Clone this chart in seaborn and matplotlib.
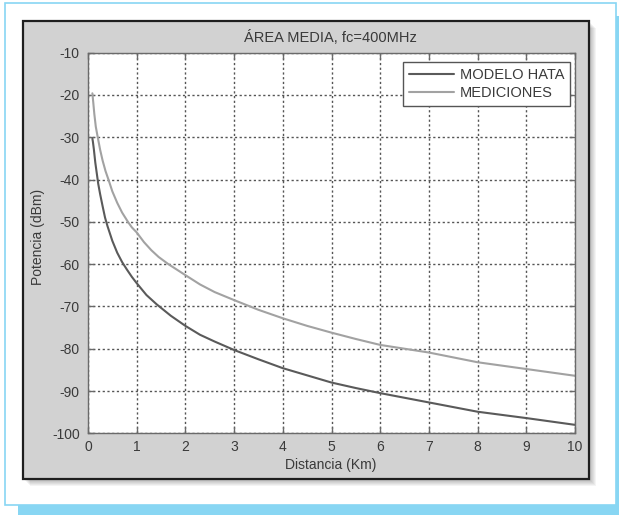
import pandas as pd
import seaborn as sns
import matplotlib.pyplot as plt
from matplotlib.patches import Rectangle

# Data
dist_hata = [0.09, 0.1, 0.12, 0.15, 0.18, 0.21, 0.25, 0.3, 0.35, 0.4, 0.5, 0.6, 0.7,
             0.8, 0.9, 1.0, 1.2, 1.41, 1.7, 2.0, 2.3, 2.6, 3.0, 3.5, 4.0, 4.5, 5.0,
             5.5, 6.0, 7.0, 8.0, 9.0, 10.0]
pot_hata = [-30.3, -31.0, -32.8, -36.0, -38.5, -41.0, -43.5, -46.3, -49.0, -51.0,
            -54.5, -57.3, -59.5, -61.3, -63.0, -64.5, -67.3, -69.5, -72.2, -74.6,
            -76.7, -78.3, -80.3, -82.5, -84.6, -86.3, -88.0, -89.3, -90.5, -92.7,
            -94.9, -96.4, -98.0]

dist_med = [0.09, 0.11, 0.13, 0.16, 0.2, 0.25, 0.3, 0.36, 0.42, 0.5, 0.6, 0.7, 0.82,
            0.9, 1.0, 1.15, 1.3, 1.45, 1.65, 2.0, 2.3, 2.6, 3.0, 3.5, 4.0, 4.5, 5.0,
            5.5, 6.0, 7.0, 8.0, 9.0, 10.0]
pot_med = [-19.6, -22.0, -24.5, -27.5, -30.0, -33.0, -35.5, -38.0, -40.0, -42.8,
           -45.5, -47.8, -50.0, -51.3, -52.5, -54.8, -56.7, -58.3, -60.0, -62.6,
           -64.8, -66.6, -68.5, -70.8, -72.8, -74.6, -76.2, -77.7, -79.1, -80.9,
           -83.2, -84.8, -86.4]

series = ['MODELO HATA', 'MEDICIONES']
x_ticks = list(range(0, 11))
y_ticks = list(range(-100, 0, 10))

df = pd.concat([
    pd.DataFrame({'Distancia': dist_hata, 'Potencia': pot_hata, 'Serie': series[0]}),
    pd.DataFrame({'Distancia': dist_med, 'Potencia': pot_med, 'Serie': series[1]}),
])

sns.set_style('ticks')
plt.rcParams['font.family'] = ['Liberation Sans', 'DejaVu Sans']
plt.rcParams['axes.unicode_minus'] = False

W, H = 619, 515
fig = plt.figure(figsize=(W / 100, H / 100), dpi=100, facecolor='white')


def px_rect(x0, y0, x1, y1, **kw):
    # rectangle given in pixel coords (top-left origin)
    r = Rectangle((x0 / W, 1 - y1 / H), (x1 - x0) / W, (y1 - y0) / H,
                  transform=fig.transFigure, **kw)
    fig.patches.append(r)
    return r


# light blue frame and its thick "shadow" bars
blue = '#88d6f3'
px_rect(4.7, 3.3, 616, 505, fill=False, edgecolor=blue, linewidth=1.2, zorder=-10)
px_rect(18, 505, 619, 515, facecolor=blue, edgecolor='none', zorder=-10)
px_rect(616, 16, 619, 515, facecolor=blue, edgecolor='none', zorder=-10)

# soft drop shadow of the gray panel
for i in range(1, 8):
    px_rect(22.7 + i, 20.7 + i, 589 + i, 479.3 + i, facecolor='#000000',
            edgecolor='none', alpha=0.045, zorder=-9)

# gray figure panel
px_rect(22.7, 20.7, 589, 479.3, facecolor='#d2d2d2', edgecolor='#1e1e1e',
        linewidth=1.6, zorder=-8)

ax = fig.add_axes([88 / W, 1 - 433.3 / H, (575 - 88) / W, (433.3 - 52.7) / H])
ax.set_facecolor('white')

sns.lineplot(data=df, x='Distancia', y='Potencia', hue='Serie', hue_order=series,
             palette={'MODELO HATA': '#5a5a5a', 'MEDICIONES': '#a2a2a2'},
             estimator=None, sort=False, linewidth=1.5, ax=ax)

ax.set_xlim(0, 10)
ax.set_ylim(-100, -10)
ax.set_xticks(x_ticks)
ax.set_yticks(y_ticks)
ax.set_xlabel('')
ax.set_ylabel('')

ax.grid(True, color='#555555', linestyle=(0, (1.6, 1.8)), linewidth=1.0)
for s in ax.spines.values():
    s.set_visible(True)
    s.set_color('#6a6a6a')
    s.set_linewidth(1.0)
ax.tick_params(direction='in', length=4, width=1, color='#6a6a6a',
               top=True, right=True, labelsize=10, labelcolor='#3a3a3a')
ax.tick_params(axis='y', pad=6)
ax.tick_params(axis='x', pad=5)

leg = ax.legend(loc='upper right', bbox_to_anchor=(0.99, 0.976), borderaxespad=0,
                fancybox=False, framealpha=1, edgecolor='#555555', fontsize=10.5,
                handlelength=3.1, handletextpad=0.4, borderpad=0.4, labelspacing=0.3)
for t in leg.get_texts():
    t.set_color('#3a3a3a')
leg.get_frame().set_linewidth(1.0)

fig.text(330 / W, 1 - 38 / H, 'ÁREA MEDIA, fc=400MHz', ha='center', va='center',
         fontsize=10.5, color='#3a3a3a')
fig.text(331 / W, 1 - 465 / H, 'Distancia (Km)', ha='center', va='center',
         fontsize=10, color='#3a3a3a')
fig.text(38 / W, 1 - 237 / H, 'Potencia (dBm)', ha='center', va='center',
         rotation=90, fontsize=10, color='#3a3a3a')

fig.savefig('out.png', dpi=100, facecolor='white')
